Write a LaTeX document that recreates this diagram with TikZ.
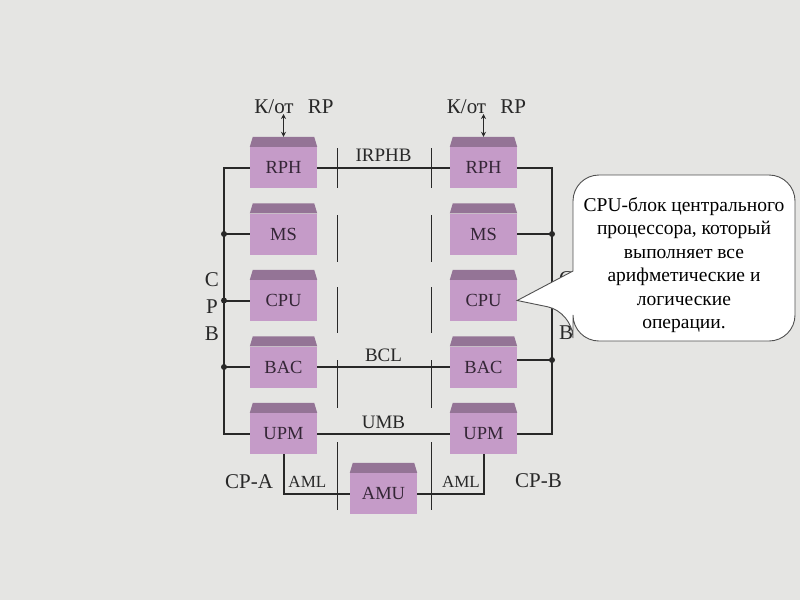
\documentclass[tikz,border=0pt]{standalone}
\usepackage{fontspec}
\setmainfont{Liberation Serif}
\usetikzlibrary{arrows.meta}
\definecolor{PaperGrey}{RGB}{229,229,227}
\definecolor{UnitBody}{RGB}{197,155,200}
\definecolor{UnitTop}{RGB}{148,116,150}
\definecolor{UnitText}{RGB}{52,38,54}
\definecolor{BusLine}{RGB}{40,40,40}
\definecolor{NoteEdge}{RGB}{80,80,80}

\begin{document}
\begin{tikzpicture}[x=1pt, y=-1pt,
          unit/.style={rectangle, fill=UnitBody, minimum width=67pt, minimum height=41pt,
                       inner sep=0pt, text=UnitText, font=\fontsize{18.5}{20}\selectfont},
          unittop/.style={fill=UnitTop},
          bus/.style={BusLine, line width=2pt},
          sepline/.style={BusLine, line width=1pt},
          tap/.style={circle, fill=BusLine, inner sep=0pt, minimum size=6pt},
          lbl/.style={inner sep=0pt, text=BusLine, font=\fontsize{19}{20}\selectfont},
          aml/.style={inner sep=0pt, text=BusLine, font=\fontsize{17}{18}\selectfont},
          cplbl/.style={inner sep=0pt, text=BusLine, font=\fontsize{21}{27}\selectfont, align=center},
          dbl/.style={{Stealth[length=5pt,width=5pt]}-{Stealth[length=5pt,width=5pt]}, BusLine, line width=1pt},
          callout/.style={fill=white, draw=NoteEdge, line width=0.9pt},
          notetext/.style={inner sep=0pt, text=black, align=center, font=\fontsize{19.5}{23.5}\selectfont}
        ]
        \fill[PaperGrey] (0,0) rectangle (800,600);

        % break lines between the two processors
        \foreach \sx in {337,431}
          \foreach \ya/\yb in {148/188,215/262,287/333,360/408,442/510}
            \draw[sepline] (\sx,\ya) -- (\sx,\yb);

        \coordinate (busA) at (224,300);
        \coordinate (busB) at (552,300);

        \node[unit] (rphA) at (283.5,167.5) {RPH};
        \node[unit] (msA)  at (283.5,234)   {MS};
        \node[unit] (cpuA) at (283.5,300.5) {CPU};
        \node[unit] (bacA) at (283.5,367)   {BAC};
        \node[unit] (upmA) at (283.5,433.5) {UPM};
        \node[unit] (rphB) at (483.5,167.5) {RPH};
        \node[unit] (msB)  at (483.5,234)   {MS};
        \node[unit] (cpuB) at (483.5,300.5) {CPU};
        \node[unit] (bacB) at (483.5,367)   {BAC};
        \node[unit] (upmB) at (483.5,433.5) {UPM};
        \node[unit] (amu)  at (383.5,493.5) {AMU};

        \foreach \u in {rphA,msA,cpuA,bacA,upmA,rphB,msB,cpuB,bacB,upmB,amu}
          \fill[unittop] (\u.north west) -- ([xshift=3pt,yshift=10pt]\u.north west)
                -- ([xshift=-3pt,yshift=10pt]\u.north east) -- (\u.north east) -- cycle;

        % processor buses
        \draw[bus] (rphA.west) -- (rphA.west -| busA) -- (upmA.west -| busA) -- (upmA.west);
        \draw[bus] (msA.west) -- (msA.west -| busA) node[tap] {};
        \draw[bus] (cpuA.west) -- (cpuA.west -| busA) node[tap] {};
        \draw[bus] (bacA.west) -- (bacA.west -| busA) node[tap] {};
        \draw[bus] (rphB.east) -- (rphB.east -| busB) -- (upmB.east -| busB) -- (upmB.east);
        \draw[bus] (msB.east) -- (msB.east -| busB) node[tap] {};
        \draw[bus] ([yshift=7pt]bacB.east) -- ([yshift=7pt]bacB.east -| busB) node[tap] {};

        % links between the processors
        \draw[bus] (rphA.east) -- (rphB.west) node[midway, above=5pt, lbl] {IRPHB};
        \draw[bus] (bacA.east) -- (bacB.west) node[midway, above=4pt, lbl] {BCL};
        \draw[bus] (upmA.east) -- (upmB.west) node[midway, above=4pt, lbl] {UMB};
        \draw[bus] (upmA.south) |- (amu.west) node[pos=0.68, above=5pt, aml] {AML};
        \draw[bus] (amu.east) -| (upmB.south) node[pos=0.33, above=5pt, aml] {AML};

        \node[lbl, font=\fontsize{21}{22}\selectfont, anchor=base] (rpA) at (294,113)
              {К/от\hspace{9pt} RP};
        \node[lbl, font=\fontsize{21}{22}\selectfont, anchor=base] (rpB) at (486.5,113)
              {К/от\hspace{9pt} RP};
        \coordinate (portA) at (283.5,114);
        \coordinate (portB) at (483.5,114);
        \draw[dbl] (portA) -- ([yshift=10pt]rphA.north);
        \draw[dbl] (portB) -- ([yshift=10pt]rphB.north);

        \node[cplbl, anchor=base] (cpA) at (249,488) {CP-A};
        \node[cplbl, anchor=base] (cpB) at (538.5,487) {CP-B};
        \node[cplbl] (cpbA) at (212,307) {C\\P\\B};
        \node[cplbl] (cpbB) at (566,306) {C\\P\\B};

        % note on the CPU
        \filldraw[callout] (573,250) [rounded corners=26pt] -- (573,175) -- (795,175)
              -- (795,341) -- (573,341) -- (573,312) [sharp corners] -- (cpuB.east)
              -- (573,271) -- cycle;
        \node[notetext] (note) at (684,265)
              {CPU-блок центрального\\процессора, который\\выполняет все\\арифметические и\\логические\\операции.};
      \end{tikzpicture}
\end{document}
